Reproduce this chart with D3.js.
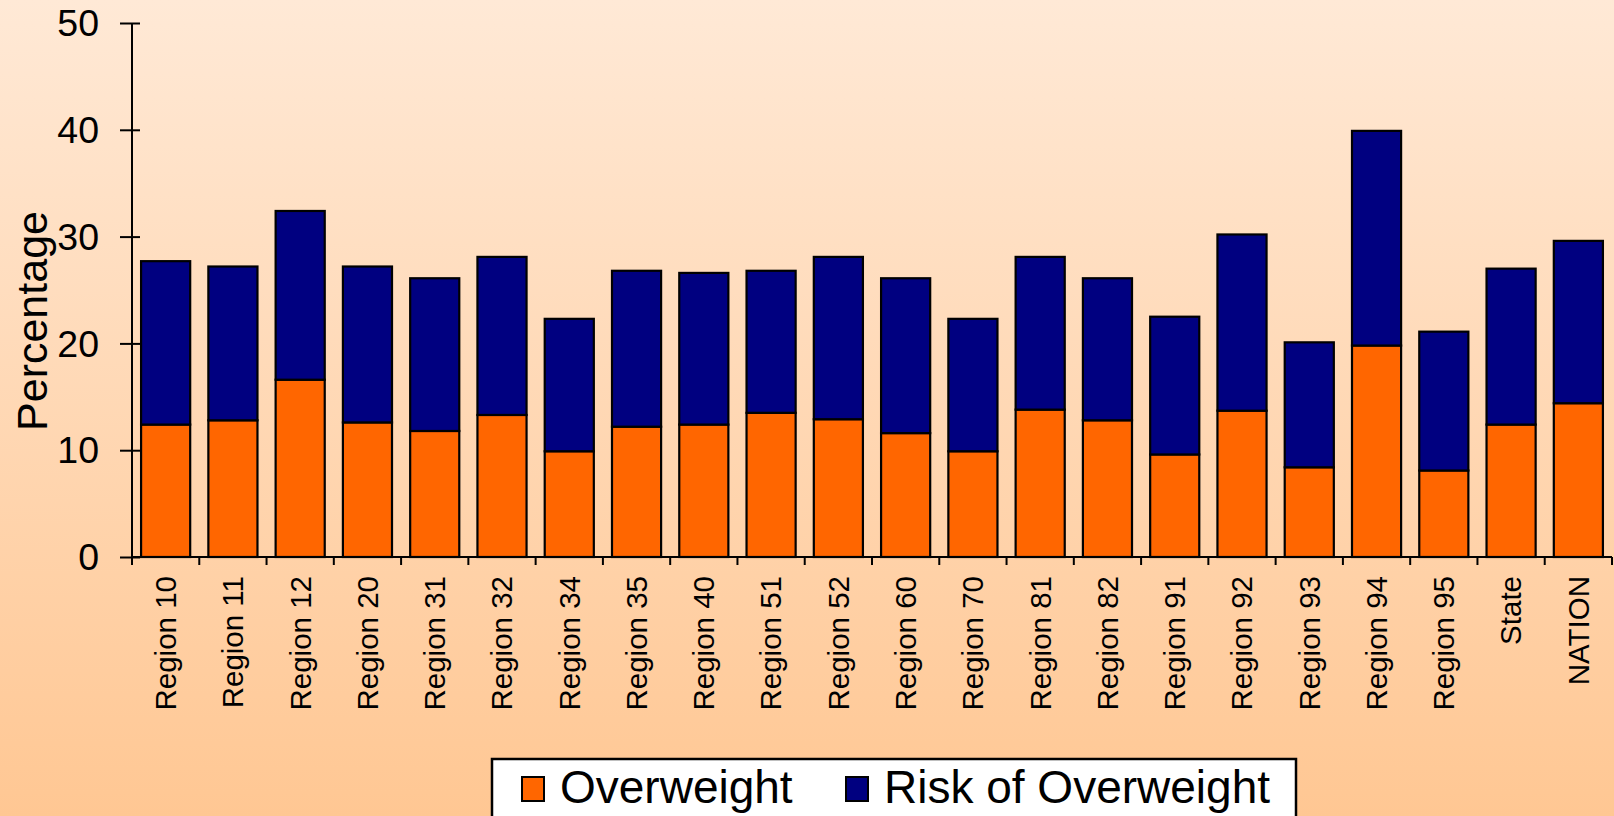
<!DOCTYPE html>
<html>
<head>
<meta charset="utf-8">
<script src="https://cdn.jsdelivr.net/npm/d3@7"></script>
<style>
  html, body { margin: 0; padding: 0; overflow: hidden; }
  svg { display: block; }
  text { font-family: "Liberation Sans", Arial, sans-serif; fill: #000; }
</style>
</head>
<body>
<svg id="chart" width="1614" height="816"></svg>
<script>
const categories = ["Region 10","Region 11","Region 12","Region 20","Region 31","Region 32","Region 34","Region 35","Region 40","Region 51","Region 52","Region 60","Region 70","Region 81","Region 82","Region 91","Region 92","Region 93","Region 94","Region 95","State","NATION"];
const overweight = [12.4,12.8,16.6,12.6,11.8,13.3,9.9,12.2,12.4,13.5,12.9,11.6,9.9,13.8,12.8,9.6,13.7,8.4,19.8,8.1,12.4,14.4];
const riskOfOverweight = [15.3,14.4,15.8,14.6,14.3,14.8,12.4,14.6,14.2,13.3,15.2,14.5,12.4,14.3,13.3,12.9,16.5,11.7,20.1,13.0,14.6,15.2];
const seriesNames = ["Overweight","Risk of Overweight"];
const seriesColors = ["#FF6600","#000080"];
const yTicks = [0,10,20,30,40,50];
const yLabel = "Percentage";

const svg = d3.select("#chart");
const W = 1614, H = 816;

const defs = svg.append("defs");
const grad = defs.append("linearGradient").attr("id","bg").attr("x1",0).attr("y1",0).attr("x2",0).attr("y2",1);
grad.append("stop").attr("offset","0%").attr("stop-color","#FFE9D6");
grad.append("stop").attr("offset","100%").attr("stop-color","#FFC793");
svg.append("rect").attr("width",W).attr("height",H).attr("fill","url(#bg)");

const x = d3.scaleBand().domain(categories).range([132, 1612]).paddingInner(0.27).paddingOuter(0.135);
const y = d3.scaleLinear().domain([0,50]).range([557, 23]);

const data = categories.map((c,i) => ({cat:c, Overweight:overweight[i], "Risk of Overweight":riskOfOverweight[i]}));
const stack = d3.stack().keys(seriesNames)(data);

const g = svg.append("g");
g.selectAll("g.series").data(stack).join("g")
  .attr("class","series")
  .attr("fill",(d,i)=>seriesColors[i])
  .selectAll("rect").data(d=>d).join("rect")
  .attr("x", d=>x(d.data.cat))
  .attr("width", x.bandwidth())
  .attr("y", d=>y(d[1]))
  .attr("height", d=>y(d[0])-y(d[1]))
  .attr("stroke","#000").attr("stroke-width",2.2);

// Y axis
const yAxis = svg.append("g").attr("transform","translate(132,0)")
  .call(d3.axisLeft(y).tickValues(yTicks).tickSize(12).tickPadding(21));
yAxis.select(".domain").attr("stroke","#000").attr("stroke-width",2).attr("d","M0,23V557");
yAxis.selectAll(".tick line").attr("stroke","#000").attr("stroke-width",2).attr("x2",-12).attr("x1",8);
yAxis.selectAll(".tick text").attr("font-size",37.5).attr("font-family","'Liberation Sans', Arial, sans-serif").attr("fill","#000").attr("dy","0.34em");

// X axis
const step = x.step();
const xAxisG = svg.append("g").attr("transform","translate(0,557)");
xAxisG.append("line").attr("x1",132).attr("x2",1612).attr("stroke","#000").attr("stroke-width",2);
const boundaries = d3.range(categories.length+1).map(i => 132 + i*step);
xAxisG.selectAll("line.tk").data(boundaries).join("line").attr("class","tk")
  .attr("x1",d=>d).attr("x2",d=>d).attr("y1",0).attr("y2",8)
  .attr("stroke","#000").attr("stroke-width",2);
xAxisG.selectAll("text").data(categories).join("text")
  .attr("transform", d=>`translate(${x(d)+x.bandwidth()/2},19) rotate(-90)`)
  .attr("text-anchor","end")
  .attr("dy","0.35em")
  .attr("font-size",29.5)
  .text(d=>d);

// Y label
svg.append("text")
  .attr("transform","translate(47,321) rotate(-90)")
  .attr("text-anchor","middle")
  .attr("font-size",43)
  .text(yLabel);

// Legend
const lg = svg.append("g");
lg.append("rect").attr("x",492).attr("y",759).attr("width",804).attr("height",80)
  .attr("fill","#fff").attr("stroke","#000").attr("stroke-width",2.5);
const legX = [522, 846];
seriesNames.forEach((s,i)=>{
  lg.append("rect").attr("x",legX[i]).attr("y",777).attr("width",22).attr("height",24)
    .attr("fill",seriesColors[i]).attr("stroke","#000").attr("stroke-width",2);
  lg.append("text").attr("x",legX[i]+38).attr("y",803).attr("font-size",46).text(s);
});
</script>
</body>
</html>
